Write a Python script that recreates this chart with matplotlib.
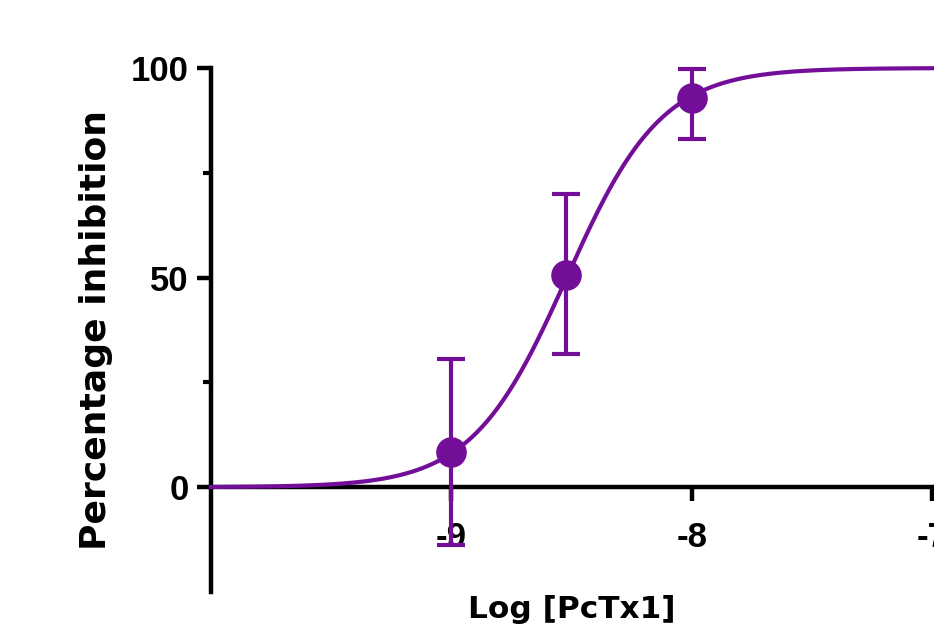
import numpy as np
import matplotlib
matplotlib.use('Agg')
import matplotlib.pyplot as plt
from matplotlib.ticker import FixedLocator

plt.rcParams['axes.unicode_minus'] = False

# data (1, 3, 10 nM)
log_conc = [-9.0, -8.523, -8.0]
inhibition = [8.3, 50.7, 92.8]
err_upper = [30.6, 70.0, 99.8]
err_lower = [-13.8, 31.8, 83.0]

# fitted curve parameters (sigmoid, bottom 0 / top 100)
log_ic50 = -8.52
hill = 2.2
bottom, top = 0, 100

x_ticks = [-9, -8, -7]
y_ticks = [0, 50, 100]
y_minor = [25, 75]

purple = '#720e98'

fig = plt.figure(figsize=(9.34, 6.3), dpi=100)
ax = fig.add_axes([0.2259, 0.0603, 0.772, 0.8317])

xs = np.linspace(-10, -7, 400)
curve = bottom + (top - bottom) / (1 + 10 ** ((log_ic50 - xs) * hill))
ax.plot(xs, curve, color=purple, lw=3, zorder=3, clip_on=False)

yerr = [np.array(inhibition) - np.array(err_lower),
        np.array(err_upper) - np.array(inhibition)]
ax.errorbar(log_conc, inhibition, yerr=yerr, fmt='o', color=purple, ms=21,
            elinewidth=3, capsize=10, capthick=3, zorder=4, clip_on=False)

ax.set_xlim(-10, -7)
ax.set_ylim(-25, 100)

for s in ['top', 'right']:
    ax.spines[s].set_visible(False)
ax.spines['bottom'].set_position(('data', 0))
ax.spines['bottom'].set_linewidth(3.2)
ax.spines['left'].set_linewidth(3.2)

ax.set_xticks(x_ticks)
ax.set_yticks(y_ticks)
ax.yaxis.set_minor_locator(FixedLocator(y_minor))
ax.tick_params(axis='both', which='major', length=10, width=3.2, direction='out',
               labelsize=25, pad=14)
ax.tick_params(axis='y', which='minor', length=6, width=3, direction='out')
ax.tick_params(axis='y', which='major', pad=6)
for lab in ax.get_xticklabels() + ax.get_yticklabels():
    lab.set_family(['Liberation Sans Narrow', 'Liberation Sans'])
    lab.set_fontweight('bold')

ax.set_xlabel('Log [PcTx1]', fontsize=22.5, fontweight='bold', family='DejaVu Sans')
ax.xaxis.set_label_coords(0.5, -0.05)
ax.xaxis.label.set_va('baseline')
ax.set_ylabel('Percentage inhibition', fontsize=26, fontweight='bold', family='DejaVu Sans')
ax.yaxis.set_label_coords(-0.16, 0.5)
ax.yaxis.label.set_va('center')

fig.savefig('out.png', dpi=100)
